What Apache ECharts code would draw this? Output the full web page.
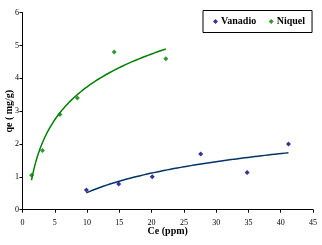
<!DOCTYPE html>
<html>
<head>
<meta charset="utf-8">
<script src="https://cdn.jsdelivr.net/npm/echarts@6/dist/echarts.min.js"></script>
<style>
  html, body { margin: 0; padding: 0; background: #fff; }
  #chart { width: 322px; height: 245px; }
</style>
</head>
<body>
<div id="chart"></div>
<script>
// measured points (Ce ppm, qe mg/g)
const vanadioCe = [9.9, 14.9, 20.1, 27.6, 34.8, 41.2];
const vanadioQe = [0.6, 0.78, 1.0, 1.7, 1.13, 2.0];
const niquelCe = [1.4, 3.1, 5.8, 8.5, 14.2, 22.2];
const niquelQe = [1.05, 1.8, 2.9, 3.4, 4.8, 4.6];
const seriesNames = ['Vanadio', 'Niquel'];

// least squares fit y = a*ln(x) + b, like the spreadsheet trendline
function logFit(xs, ys) {
  const lx = xs.map(Math.log);
  const mx = lx.reduce((s, v) => s + v, 0) / lx.length;
  const my = ys.reduce((s, v) => s + v, 0) / ys.length;
  let sxy = 0, sxx = 0;
  lx.forEach((v, i) => { sxy += (v - mx) * (ys[i] - my); sxx += (v - mx) * (v - mx); });
  const a = sxy / sxx;
  const b = my - a * mx;
  const lo = Math.min(...xs), hi = Math.max(...xs);
  const pts = [];
  for (let i = 0; i <= 60; i++) {
    const x = lo + (hi - lo) * i / 60;
    pts.push([x, a * Math.log(x) + b]);
  }
  return pts;
}

const pairs = (xs, ys) => xs.map((x, i) => [x, ys[i]]);
const serif = '"Liberation Serif", "DejaVu Serif", serif';

const chart = echarts.init(document.getElementById('chart'));
chart.setOption({
  animation: false,
  grid: { left: 22.5, right: 9, top: 12.7, bottom: 35.3, outerBoundsMode: 'none', containLabel: false },
  legend: {
    data: seriesNames,
    orient: 'horizontal',
    left: 203,
    top: 10.5,
    padding: [6, 7, 6, 10],
    itemGap: 12.5,
    itemWidth: 5,
    itemHeight: 5,
    borderColor: '#000',
    borderWidth: 1,
    textStyle: { fontFamily: serif, fontWeight: 'bold', fontSize: 10, color: '#000', padding: [0, 0, 0, -2] }
  },
  xAxis: {
    type: 'value',
    min: 0, max: 45, interval: 5,
    name: 'Ce (ppm)',
    nameLocation: 'middle',
    nameGap: 17,
    nameMoveOverlap: false,
    nameTextStyle: { fontFamily: serif, fontWeight: 'bold', fontSize: 10, color: '#000' },
    axisLine: { lineStyle: { color: '#000', width: 1 } },
    axisTick: { inside: false, length: 3, lineStyle: { color: '#000' } },
    axisLabel: { fontFamily: serif, fontSize: 8, color: '#000', margin: 9 },
    splitLine: { show: false }
  },
  yAxis: {
    type: 'value',
    min: 0, max: 6, interval: 1,
    name: 'qe ( mg/g)',
    nameLocation: 'middle',
    nameGap: 8.5,
    nameMoveOverlap: false,
    nameRotate: 90,
    nameTextStyle: { fontFamily: serif, fontWeight: 'bold', fontSize: 10, color: '#000' },
    axisLine: { show: true, lineStyle: { color: '#000', width: 1 } },
    axisTick: { show: true, inside: false, length: 3, lineStyle: { color: '#000' } },
    axisLabel: { fontFamily: serif, fontSize: 8, color: '#000', margin: 3.5 },
    splitLine: { show: false }
  },
  series: [
    {
      name: 'Vanadio', type: 'scatter', symbol: 'diamond', symbolSize: 5,
      itemStyle: { color: '#000080' }, data: pairs(vanadioCe, vanadioQe), z: 3
    },
    {
      name: 'Niquel', type: 'scatter', symbol: 'diamond', symbolSize: 5,
      itemStyle: { color: '#008000' }, data: pairs(niquelCe, niquelQe), z: 3
    },
    {
      name: 'Vanadio trend', type: 'line', showSymbol: false, silent: true,
      lineStyle: { color: '#003366', width: 1.5 }, data: logFit(vanadioCe, vanadioQe)
    },
    {
      name: 'Niquel trend', type: 'line', showSymbol: false, silent: true,
      lineStyle: { color: '#008000', width: 1.5 }, data: logFit(niquelCe, niquelQe)
    }
  ]
});
</script>
</body>
</html>
